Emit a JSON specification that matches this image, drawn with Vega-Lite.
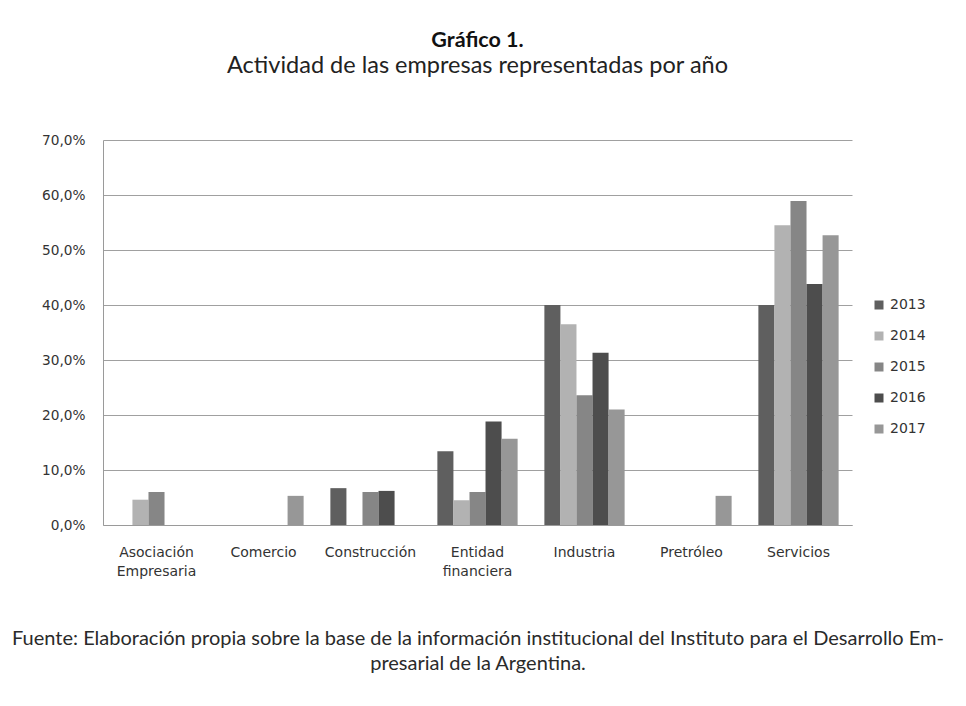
{
  "$schema": "https://vega.github.io/schema/vega-lite/v6.json",
  "width": 749,
  "height": 385,
  "autosize": "none",
  "padding": {"left": 103, "top": 140, "right": 114, "bottom": 181},
  "background": "white",
  "title": {
    "text": "Gráfico 1.",
    "subtitle": "Actividad de las empresas representadas por año",
    "font": "Lato",
    "fontSize": 21.5,
    "fontWeight": "bold",
    "color": "#111",
    "subtitleFont": "Lato",
    "subtitleFontSize": 23.5,
    "subtitleColor": "#222",
    "subtitlePadding": 2,
    "anchor": "middle",
    "offset": 56
  },
  "data": {
    "values": [
      {"actividad": "Asociación Empresaria", "anio": "2014", "valor": 4.6},
      {"actividad": "Asociación Empresaria", "anio": "2015", "valor": 6.0},
      {"actividad": "Comercio", "anio": "2017", "valor": 5.3},
      {"actividad": "Construcción", "anio": "2013", "valor": 6.7},
      {"actividad": "Construcción", "anio": "2015", "valor": 6.0},
      {"actividad": "Construcción", "anio": "2016", "valor": 6.2},
      {"actividad": "Entidad financiera", "anio": "2013", "valor": 13.4},
      {"actividad": "Entidad financiera", "anio": "2014", "valor": 4.5},
      {"actividad": "Entidad financiera", "anio": "2015", "valor": 6.0},
      {"actividad": "Entidad financiera", "anio": "2016", "valor": 18.8},
      {"actividad": "Entidad financiera", "anio": "2017", "valor": 15.7},
      {"actividad": "Industria", "anio": "2013", "valor": 40.0},
      {"actividad": "Industria", "anio": "2014", "valor": 36.5},
      {"actividad": "Industria", "anio": "2015", "valor": 23.6},
      {"actividad": "Industria", "anio": "2016", "valor": 31.3},
      {"actividad": "Industria", "anio": "2017", "valor": 21.0},
      {"actividad": "Pretróleo", "anio": "2017", "valor": 5.3},
      {"actividad": "Servicios", "anio": "2013", "valor": 40.0},
      {"actividad": "Servicios", "anio": "2014", "valor": 54.5},
      {"actividad": "Servicios", "anio": "2015", "valor": 58.9},
      {"actividad": "Servicios", "anio": "2016", "valor": 43.8},
      {"actividad": "Servicios", "anio": "2017", "valor": 52.7}
    ]
  },
  "mark": {"type": "bar"},
  "encoding": {
    "x": {
      "field": "actividad",
      "type": "nominal",
      "sort": ["Asociación Empresaria", "Comercio", "Construcción", "Entidad financiera", "Industria", "Pretróleo", "Servicios"],
      "scale": {"paddingInner": 0.25, "paddingOuter": 0.125},
      "axis": {
        "labelAngle": 0,
        "labelExpr": "split(datum.label, ' ')",
        "labelFont": "DejaVu Sans",
        "labelFontSize": 14,
        "labelColor": "#333",
        "labelPadding": 20,
        "labelLineHeight": 19,
        "labelBaseline": "top",
        "ticks": false,
        "domainColor": "#9a9a9a",
        "title": ["Fuente: Elaboración propia sobre la base de la información institucional del Instituto para el Desarrollo Em-", "presarial de la Argentina."],
        "titleFont": "Lato",
        "titleFontSize": 20,
        "titleFontWeight": "normal",
        "titleColor": "#2a2a2a",
        "titleLineHeight": 25,
        "titlePadding": 50
      }
    },
    "xOffset": {"field": "anio", "type": "nominal", "sort": ["2013", "2014", "2015", "2016", "2017"]},
    "y": {
      "field": "valor",
      "type": "quantitative",
      "scale": {"domain": [0, 70], "nice": false},
      "axis": {
        "values": [0, 10, 20, 30, 40, 50, 60, 70],
        "labelExpr": "replace(format(datum.value, '.1f'), '.', ',') + '%'",
        "labelFont": "DejaVu Sans",
        "labelFontSize": 13.7,
        "labelColor": "#333",
        "labelPadding": 18,
        "ticks": false,
        "domainColor": "#9a9a9a",
        "gridColor": "#a0a0a0",
        "gridWidth": 1,
        "title": null
      }
    },
    "color": {
      "field": "anio",
      "type": "nominal",
      "scale": {"domain": ["2013", "2014", "2015", "2016", "2017"], "range": ["#5f5f5f", "#b2b2b2", "#868686", "#4d4d4d", "#979797"]},
      "legend": {
        "orient": "none",
        "legendX": 769,
        "legendY": 158,
        "title": null,
        "symbolType": "square",
        "symbolSize": 81,
        "symbolStrokeWidth": 0,
        "labelFont": "DejaVu Sans",
        "labelFontSize": 14,
        "labelColor": "#333",
        "labelOffset": 4,
        "rowPadding": 17,
        "padding": 0
      }
    }
  },
  "config": {
    "view": {"stroke": null},
    "axis": {"gridColor": "#a0a0a0"}
  }
}
